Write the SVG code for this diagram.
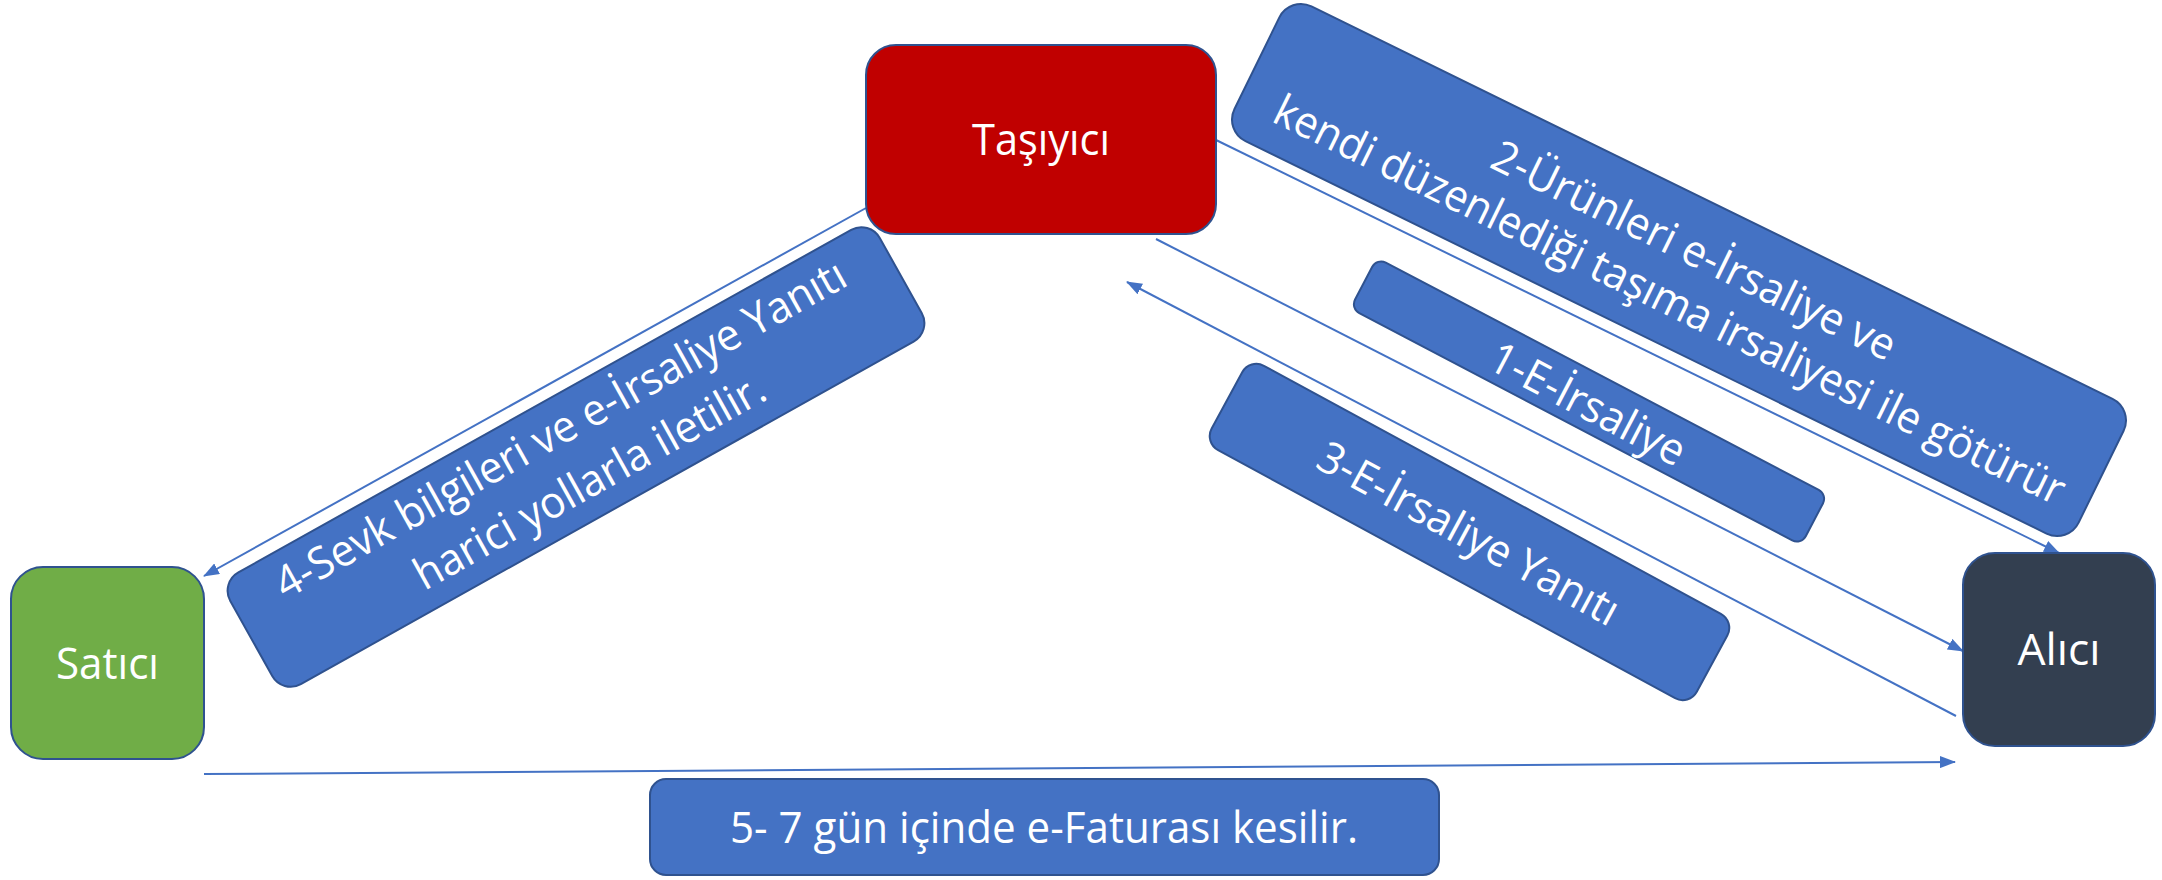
<svg xmlns="http://www.w3.org/2000/svg" width="2162" height="880" viewBox="0 0 2162 880">
<style>
.lbl{fill:#4472C4;stroke:#2F528F;stroke-width:2}
.t{font-family:"Open Sans","Noto Sans","Liberation Sans",sans-serif;font-size:44px;fill:#FFFFFF;text-anchor:middle}
.c{stroke:#4472C4;stroke-width:2;fill:none;marker-end:url(#ah)}
</style>
<defs>
<marker id="ah" markerUnits="userSpaceOnUse" markerWidth="16" markerHeight="12" refX="15" refY="6" orient="auto">
<path d="M0,0 L16,6 L0,12 Z" fill="#4472C4"/>
</marker>
</defs>
<rect width="2162" height="880" fill="#FFFFFF"/>
<g id="connectors">
<line class="c" x1="866" y1="208" x2="204" y2="576"/>
<line class="c" x1="1216" y1="140" x2="2059" y2="553"/>
<line class="c" x1="1156" y1="239" x2="1963" y2="651"/>
<line class="c" x1="1956" y1="716" x2="1127" y2="282"/>
<line class="c" x1="204" y1="774" x2="1955" y2="762"/>
</g>
<g id="tasiyici">
<rect x="866" y="45" width="350" height="189" rx="30" fill="#C00000" stroke="#2F528F" stroke-width="2"/>
<text class="t" x="1041" y="155" textLength="138" lengthAdjust="spacingAndGlyphs">Taşıyıcı</text>
</g>
<g id="satici">
<rect x="11" y="567" width="193" height="192" rx="32" fill="#70AD47" stroke="#2F528F" stroke-width="2"/>
<text class="t" x="107.5" y="679" textLength="103" lengthAdjust="spacingAndGlyphs">Satıcı</text>
</g>
<g id="alici">
<rect x="1963" y="553" width="192" height="193" rx="32" fill="#333F50" stroke="#2F528F" stroke-width="2"/>
<text class="t" x="2059" y="665" textLength="83" lengthAdjust="spacingAndGlyphs">Alıcı</text>
</g>
<g id="label5">
<rect class="lbl" x="650" y="779" width="789" height="96" rx="16"/>
<text class="t" x="1044" y="843" textLength="628" lengthAdjust="spacingAndGlyphs">5- 7 gün içinde e-Faturası kesilir.</text>
</g>
<g id="label2" transform="translate(1679,270) rotate(26.1)">
<rect class="lbl" x="-470" y="-75" width="940" height="150" rx="24"/>
<text class="t" x="5" y="-9" textLength="444" lengthAdjust="spacingAndGlyphs">2-Ürünleri e-İrsaliye ve</text>
<text class="t" x="5" y="46" textLength="875" lengthAdjust="spacingAndGlyphs">kendi düzenlediği taşıma irsaliyesi ile götürür</text>
</g>
<g id="label1" transform="translate(1589,401.5) rotate(27.7)">
<rect class="lbl" x="-254.5" y="-28.5" width="509" height="57" rx="10"/>
<text class="t" x="0" y="18" textLength="215" lengthAdjust="spacingAndGlyphs">1-E-İrsaliye</text>
</g>
<g id="label3" transform="translate(1469.5,532) rotate(28.5)">
<rect class="lbl" x="-276" y="-48" width="552" height="96" rx="16"/>
<text class="t" x="0" y="17" textLength="336" lengthAdjust="spacingAndGlyphs">3-E-İrsaliye Yanıtı</text>
</g>
<g id="label4" transform="translate(576,457) rotate(-29.2)">
<rect class="lbl" x="-372" y="-64" width="744" height="128" rx="21"/>
<text class="t" x="0" y="-17" textLength="647" lengthAdjust="spacingAndGlyphs">4-Sevk bilgileri ve e-İrsaliye Yanıtı</text>
<text class="t" x="0" y="43" textLength="395" lengthAdjust="spacingAndGlyphs">harici yollarla iletilir.</text>
</g>
</svg>
